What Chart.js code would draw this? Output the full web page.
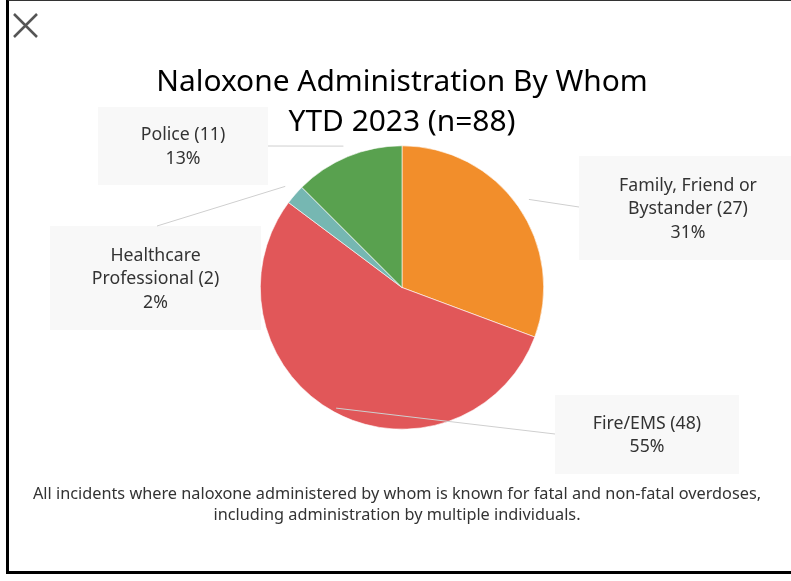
<!DOCTYPE html>
<html>
<head>
<meta charset="utf-8">
<script src="https://cdn.jsdelivr.net/npm/chart.js@4"></script>
<style>
  html, body { margin: 0; padding: 0; background: #fff; overflow: hidden; }
  #frame {
    position: absolute; left: 6px; top: -1px; width: 800px; height: 570px;
    border-left: 3px solid #000; border-top: 2px solid #333; border-bottom: 3px solid #000;
  }
  #wrap { position: absolute; left: 0; top: 0; width: 791px; height: 581px; }
</style>
</head>
<body>
<div id="frame"></div>
<div id="wrap"><canvas id="pie" width="791" height="581"></canvas></div>
<script>
const categories = ['Family, Friend or Bystander', 'Fire/EMS', 'Healthcare Professional', 'Police'];
const counts = [27, 48, 2, 11];
const colors = ['#F28E2B', '#E15759', '#76B7B2', '#59A14F'];
const titleLines = ['Naloxone Administration By Whom', 'YTD 2023 (n=88)'];
const footnoteLines = [
    'All incidents where naloxone administered by whom is known for fatal and non-fatal overdoses,',
    'including administration by multiple individuals.'
];

// where the label boxes sit (same order as categories)
const labelLayout = [
    { box: [579, 156, 218, 104], attach: [579, 207], r: 1.09 },
    { box: [555, 395, 184, 79], attach: [555, 434], r: 0.97 },
    { box: [50, 226, 211, 104], attach: [157, 226], r: 1.09 },
    { box: [98, 107, 170, 78], attach: [268, 146], r: 1.08 }
];

const FONT = '"Noto Sans", sans-serif';
const total = counts.reduce((a, b) => a + b, 0);

function wrapText(ctx, text, maxWidth) {
    const words = text.split(' ');
    const lines = [];
    let line = '';
    words.forEach(w => {
        const test = line ? line + ' ' + w : w;
        if (ctx.measureText(test).width > maxWidth && line) {
            lines.push(line);
            line = w;
        } else {
            line = test;
        }
    });
    if (line) lines.push(line);
    return lines;
}

// boxes go under the pie, leader lines and text over it
const labelPlugin = {
    id: 'labelBoxes',
    beforeDatasetsDraw(chart) {
        const ctx = chart.ctx;
        ctx.save();
        ctx.fillStyle = '#f8f8f8';
        labelLayout.forEach(l => ctx.fillRect(l.box[0], l.box[1], l.box[2], l.box[3]));
        ctx.restore();
    },
    afterDatasetsDraw(chart) {
        const ctx = chart.ctx;
        const arcs = chart.getDatasetMeta(0).data;
        ctx.save();

        // leader lines
        ctx.strokeStyle = '#cfcfcf';
        ctx.lineWidth = 1;
        arcs.forEach((arc, i) => {
            const mid = (arc.startAngle + arc.endAngle) / 2;
            const r = arc.outerRadius * labelLayout[i].r;
            const x = arc.x + Math.cos(mid) * r;
            const y = arc.y + Math.sin(mid) * r;
            ctx.beginPath();
            ctx.moveTo(x, y);
            ctx.lineTo(labelLayout[i].attach[0], labelLayout[i].attach[1]);
            ctx.stroke();
        });

        // label text
        ctx.font = '17.7px ' + FONT;
        ctx.fillStyle = '#333';
        ctx.textAlign = 'center';
        ctx.textBaseline = 'middle';
        categories.forEach((cat, i) => {
            const pct = Math.round(counts[i] / total * 100) + '%';
            const lines = wrapText(ctx, cat + ' (' + counts[i] + ')', 165).concat([pct]);
            const b = labelLayout[i].box;
            const cx = b[0] + b[2] / 2;
            const lh = 23.5;
            const y0 = b[1] + b[3] / 2 + 1 - (lines.length - 1) * lh / 2;
            lines.forEach((t, j) => ctx.fillText(t, cx, y0 + j * lh));
        });

        // title
        ctx.font = '29.9px ' + FONT;
        ctx.fillStyle = '#000';
        titleLines.forEach((t, j) => ctx.fillText(t, 402, 82 + j * 40));

        // footnote
        ctx.font = '16.3px ' + FONT;
        ctx.fillStyle = '#333';
        footnoteLines.forEach((t, j) => ctx.fillText(t, 397, 494 + j * 21));

        // close icon
        ctx.strokeStyle = '#555';
        ctx.lineWidth = 2.5;
        ctx.beginPath();
        ctx.moveTo(14, 14); ctx.lineTo(37, 37);
        ctx.moveTo(37, 14); ctx.lineTo(14, 37);
        ctx.stroke();

        ctx.restore();
    }
};

new Chart(document.getElementById('pie'), {
    type: 'pie',
    data: {
        labels: categories,
        datasets: [{
            data: counts,
            backgroundColor: colors,
            borderColor: '#fff',
            borderWidth: 0.6
        }]
    },
    options: {
        responsive: false,
        animation: false,
        devicePixelRatio: 1,
        layout: { padding: { left: 260, right: 247, top: 145, bottom: 151 } },
        plugins: {
            legend: { display: false },
            tooltip: { enabled: false }
        }
    },
    plugins: [labelPlugin]
});
</script>
</body>
</html>
